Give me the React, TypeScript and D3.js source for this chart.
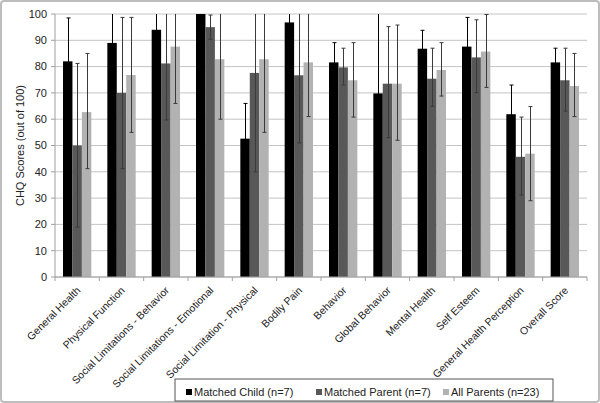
import React from "react";
import * as d3 from "d3";

const categories = [
  "General Health",
  "Physical Function",
  "Social Limitations - Behavior",
  "Social Limitations - Emotional",
  "Social Limitation - Physical",
  "Bodily Pain",
  "Behavior",
  "Global Behavior",
  "Mental Health",
  "Self Esteem",
  "General Health Perception",
  "Overall Score",
];

const seriesNames = ["Matched Child (n=7)", "Matched Parent (n=7)", "All Parents (n=23)"];
const seriesColors = ["#000000", "#585858", "#b2b2b2"];

const childVals = [82, 89, 94, 100, 52.6, 96.8, 81.6, 69.8, 86.8, 87.6, 61.9, 81.6];
const childHi = [98.5, 110, 106, 101, 66, 108, 89.1, 104, 93.8, 98.7, 73, 87];
const childLo = [65.5, 68, 82, 99, 39, 85, 74, 35, 79.8, 76.5, 50.8, 76.2];

const parentVals = [50, 70, 81.2, 95, 77.6, 76.7, 79.7, 73.5, 75.4, 83.5, 45.7, 74.8];
const parentHi = [81.2, 98.7, 102.7, 99.6, 115, 102.4, 87, 95.2, 87, 97.8, 60.8, 87];
const parentLo = [19, 41.2, 59.7, 90.4, 40, 51, 73, 53, 64.9, 70.1, 31.2, 63.1];

const allVals = [62.7, 76.8, 87.6, 82.8, 82.8, 81.6, 74.8, 73.5, 78.7, 85.7, 46.9, 72.6];
const allHi = [85, 98.7, 109, 105.6, 110.6, 102.2, 89.1, 95.8, 89.1, 99.8, 64.8, 85];
const allLo = [41.2, 55, 66, 60, 55, 61, 60.8, 52, 68.8, 72.1, 29, 61];

const yTicks = [0, 10, 20, 30, 40, 50, 60, 70, 80, 90, 100];

const series = [
  { name: seriesNames[0], color: seriesColors[0], vals: childVals, hi: childHi, lo: childLo },
  { name: seriesNames[1], color: seriesColors[1], vals: parentVals, hi: parentHi, lo: parentLo },
  { name: seriesNames[2], color: seriesColors[2], vals: allVals, hi: allHi, lo: allLo },
];

const FONT = "'Liberation Sans', Arial, sans-serif";

export default function App() {
  const W = 600, H = 403;
  const left = 55, right = 587, top = 14, bottom = 277;
  const x = d3.scaleBand<string>().domain(categories).range([left, right]).padding(0);
  const bw = x.bandwidth();
  const sub = d3.scaleBand<number>().domain([0, 1, 2]).range([8, bw - 8]).padding(0);
  const y = d3.scaleLinear().domain([0, 100]).range([bottom, top]);
  const capW = 4;

  return (
    <svg width={W} height={H} style={{ position: "absolute", left: 0, top: 0, background: "#fff" }} fontFamily={FONT}>
      <rect x={1} y={1} width={W - 2} height={H - 2} rx={3} fill="#fff" stroke="#bdbdbd" strokeWidth={2} />
      {/* gridlines */}
      {yTicks.map((t) => (
        <line key={t} x1={left} x2={right} y1={y(t)} y2={y(t)} stroke="#c4c4c4" strokeWidth={1} />
      ))}
      {/* y axis */}
      <line x1={left} x2={left} y1={top} y2={bottom} stroke="#a0a0a0" />
      {yTicks.map((t) => (
        <g key={"yt" + t}>
          <line x1={left - 4} x2={left} y1={y(t)} y2={y(t)} stroke="#a0a0a0" />
          <text x={left - 8} y={y(t)} dy="0.35em" textAnchor="end" fontSize={11} fill="#222">
            {t}
          </text>
        </g>
      ))}
      <text
        transform={`translate(24, ${(top + bottom) / 2}) rotate(-90)`}
        textAnchor="middle"
        fontSize={11}
        fill="#222"
      >
        CHQ Scores (out of 100)
      </text>
      {/* bars */}
      {series.map((s, si) =>
        categories.map((c, ci) => {
          const bx = (x(c) as number) + (sub(si) as number);
          const v = s.vals[ci];
          return (
            <rect key={s.name + c} x={bx} y={y(v)} width={sub.bandwidth()} height={y(0) - y(v)} fill={s.color} />
          );
        })
      )}
      {/* error bars */}
      {series.map((s, si) =>
        categories.map((c, ci) => {
          const cx = Math.round((x(c) as number) + (sub(si) as number) + sub.bandwidth() / 2) + 0.5;
          const hi = s.hi[ci];
          const lo = s.lo[ci];
          const hiC = Math.min(hi, 100);
          const loC = Math.max(lo, 0);
          const stroke = si === 0 ? "#000" : "#3a3a3a";
          return (
            <g key={"e" + s.name + c} stroke={stroke} strokeWidth={1}>
              <line x1={cx} x2={cx} y1={y(hiC)} y2={y(loC)} />
              {hi <= 100 && <line x1={cx - capW / 2} x2={cx + capW / 2} y1={y(hi)} y2={y(hi)} />}
              {lo >= 0 && <line x1={cx - capW / 2} x2={cx + capW / 2} y1={y(lo)} y2={y(lo)} />}
            </g>
          );
        })
      )}
      {/* x axis */}
      <line x1={left} x2={right} y1={bottom} y2={bottom} stroke="#a0a0a0" />
      {categories.map((c, i) => (
        <line key={"xt" + i} x1={x(c) as number} x2={x(c) as number} y1={bottom} y2={bottom + 4} stroke="#a0a0a0" />
      ))}
      <line x1={right} x2={right} y1={bottom} y2={bottom + 4} stroke="#a0a0a0" />
      {categories.map((c) => {
        const cx = (x(c) as number) + bw / 2 + 4;
        return (
          <text
            key={"xl" + c}
            transform={`translate(${cx}, ${bottom + 14}) rotate(-45)`}
            textAnchor="end"
            fontSize={10.5}
            fill="#222"
          >
            {c}
          </text>
        );
      })}
      {/* legend */}
      <rect x={175} y={379} width={378} height={22} fill="#fff" stroke="#555" strokeWidth={1} />
      {series.map((s, i) => {
        const lx = [186, 316, 443][i];
        return (
          <g key={"lg" + i}>
            <rect x={lx} y={389} width={6} height={6} fill={s.color} />
            <text x={lx + 8} y={392} dy="0.35em" fontSize={11} fill="#222">
              {s.name}
            </text>
          </g>
        );
      })}
    </svg>
  );
}
